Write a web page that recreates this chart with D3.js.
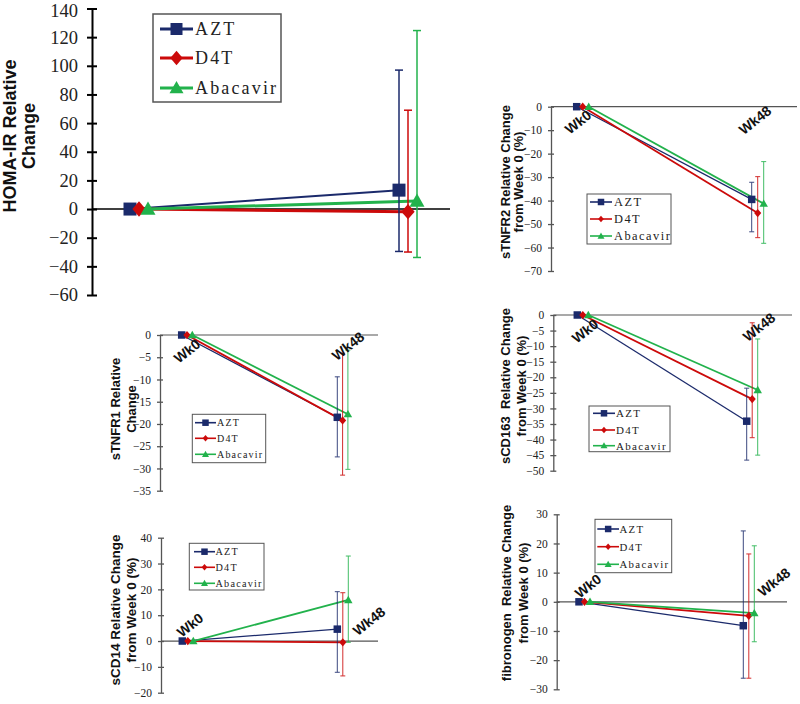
<!DOCTYPE html>
<html><head><meta charset="utf-8">
<script src="https://cdn.jsdelivr.net/npm/d3@7"></script>
<style>body{margin:0;background:#fff} svg{display:block} text{white-space:pre}</style>
</head><body><svg id="c" width="800" height="704"></svg>
<script>
const series = ["AZT", "D4T", "Abacavir"];
const timepoints = ["Wk0", "Wk48"];
const seriesColors = ["#1b2a6b", "#cc0a0a", "#22b24c"];

// Values at Wk0 are 0 (baseline); Wk48 means and error-bar limits
const homaWk48 = [13.2, -1.8, 5.6];
const homaLow = [-29.6, -30, -33.8];
const homaHigh = [97, 69, 124.6];
const homaTicks = [-60, -40, -20, 0, 20, 40, 60, 80, 100, 120, 140];

const tnfr2Wk48 = [-39.5, -45.3, -41.3];
const tnfr2Low = [-53.3, -55.8, -58.2];
const tnfr2High = [-32.2, -29.8, -23.4];
const tnfr2Ticks = [-70, -60, -50, -40, -30, -20, -10, 0];

const tnfr1Wk48 = [-18.5, -19.2, -17.8];
const tnfr1Low = [-27.4, -31.5, -30.2];
const tnfr1High = [-9.4, -4.1, -3.4];
const tnfr1Ticks = [-35, -30, -25, -20, -15, -10, -5, 0];

const cd163Wk48 = [-34.1, -27.0, -24.1];
const cd163Low = [-46.6, -39.4, -45.0];
const cd163High = [-23.5, -2.5, -7.7];
const cd163Ticks = [-50, -45, -40, -35, -30, -25, -20, -15, -10, -5, 0];

const cd14Wk48 = [4.6, -0.5, 15.9];
const cd14Low = [-12.1, -13.5, -0.5];
const cd14High = [19.1, 18.7, 32.9];
const cd14Ticks = [-20, -10, 0, 10, 20, 30, 40];

const fibWk48 = [-8.2, -4.8, -3.9];
const fibLow = [-26.2, -26.2, -13.7];
const fibHigh = [24.3, 16.4, 19.2];
const fibTicks = [-30, -20, -10, 0, 10, 20, 30];

const panels = [
  {wk48: homaWk48, low: homaLow, high: homaHigh, ticks: homaTicks, big: true,
   title: ["HOMA-IR Relative", "Change"], titleX: [10, 29], titleY: 136, titleSize: 18,
   axisX: 92, yTop: 8.5, yBot: 295, x0: 130, x1: 399, off: 9, zeroEnd: 450,
   legend: {x: 153, y: 14, w: 128, h: 88, rows: [29, 58, 88], l0: 160, l1: 193, tx: 195, fs: 18},
   wk: null},
  {wk48: tnfr2Wk48, low: tnfr2Low, high: tnfr2High, ticks: tnfr2Ticks, big: false,
   title: ["sTNFR2 Relative Change", "from Week 0 (%)"], titleX: [505, 518], titleY: 182, titleSize: 13,
   axisX: 551, yTop: 106.7, yBot: 271, x0: 576.7, x1: 751.7, off: 6, zeroEnd: 797,
   legend: {x: 587, y: 194, w: 84, h: 50, rows: [202, 219, 236], l0: 590, l1: 612, tx: 614, fs: 12.4},
   wk: [[578, 122], [755, 120]]},
  {wk48: tnfr1Wk48, low: tnfr1Low, high: tnfr1High, ticks: tnfr1Ticks, big: false,
   title: ["sTNFR1 Relative", "Change"], titleX: [115, 131], titleY: 409, titleSize: 13,
   axisX: 160, yTop: 335, yBot: 490.7, x0: 181.7, x1: 337.3, off: 5.3, zeroEnd: 378,
   legend: {x: 192.3, y: 414.3, w: 73.4, h: 48.4, rows: [422.7, 438.3, 454.3], l0: 195, l1: 216, tx: 217, fs: 10},
   wk: [[187, 351], [348, 346]]},
  {wk48: cd163Wk48, low: cd163Low, high: cd163High, ticks: cd163Ticks, big: false,
   title: ["sCD163  Relative Change", "from Week 0 (%)"], titleX: [505, 521.7], titleY: 386, titleSize: 13,
   axisX: 553.3, yTop: 315, yBot: 470.7, x0: 577.3, x1: 746.7, off: 5.5, zeroEnd: 792,
   legend: {x: 589, y: 406, w: 81, h: 45.7, rows: [413.3, 430, 445.7], l0: 593, l1: 615, tx: 616, fs: 11},
   wk: [[585, 331], [759, 327]]},
  {wk48: cd14Wk48, low: cd14Low, high: cd14High, ticks: cd14Ticks, big: false,
   title: ["sCD14 Relative Change", "from Week 0 (%)"], titleX: [115, 131.7], titleY: 610, titleSize: 13.5,
   axisX: 161, yTop: 537.7, yBot: 692.7, x0: 182.3, x1: 337.3, off: 5.5, zeroEnd: 378,
   legend: {x: 189.3, y: 543.3, w: 74.7, h: 46.7, rows: [551.7, 567.3, 583.3], l0: 194, l1: 215, tx: 215.5, fs: 10.2},
   wk: [[190, 625], [369, 621]]},
  {wk48: fibWk48, low: fibLow, high: fibHigh, ticks: fibTicks, big: false,
   title: ["fibronogen  Relative Change", "from Week 0 (%)"], titleX: [506.7, 523.3], titleY: 593, titleSize: 13,
   axisX: 556.7, yTop: 514.3, yBot: 689.3, x0: 579, x1: 743.3, off: 5.5, zeroEnd: 787,
   legend: {x: 595, y: 519.3, w: 76.7, h: 53.4, rows: [529, 546.7, 564.3], l0: 597.3, l1: 619, tx: 619.5, fs: 10.8},
   wk: [[588, 586], [774, 582]]}
];

// marker shapes
const symDiamond = {draw(ctx, size) {
  const s = Math.sqrt(size) / 2, h = s * 1.1, w = s * 0.95;
  ctx.moveTo(0, -h); ctx.lineTo(w, 0); ctx.lineTo(0, h); ctx.lineTo(-w, 0); ctx.closePath();
}};
const symTri = {draw(ctx, size) {
  const s = Math.sqrt(size) / 2;
  ctx.moveTo(0, -s * 1.0); ctx.lineTo(s, s * 0.75); ctx.lineTo(-s, s * 0.75); ctx.closePath();
}};
const symTypes = [d3.symbolSquare, symDiamond, symTri];
function marker(i, side) { return d3.symbol().type(symTypes[i]).size(side * side)(); }

const svg = d3.select("#c");
const fmt = d3.format("");

panels.forEach(p => {
  const g = svg.append("g");
  const big = p.big;
  const topTick = p.ticks[p.ticks.length - 1];
  const y = d3.scaleLinear().domain([p.ticks[0], topTick]).range([p.yBot, p.yTop]);
  const xt = d3.scalePoint().domain(timepoints).range([p.x0, p.x1]);
  const xo = d3.scalePoint().domain(series).range([0, 2 * p.off]);
  const axisColor = big ? "#000" : "#555";

  // zero line
  g.append("line").attr("x1", p.axisX).attr("x2", p.zeroEnd).attr("y1", y(0)).attr("y2", y(0))
    .attr("stroke", axisColor).attr("stroke-width", big ? 1.5 : 1.2);

  // y axis
  const tk = big ? 5 : 3;
  const ax = g.append("g").attr("transform", `translate(${p.axisX},0)`)
    .call(d3.axisLeft(y).tickValues(p.ticks).tickSizeInner(tk).tickSizeOuter(0).tickPadding(big ? 9 : 6).tickFormat(fmt));
  ax.select(".domain").attr("stroke", axisColor).attr("stroke-width", big ? 2 : 1.3);
  ax.selectAll(".tick line").attr("x1", tk).attr("stroke", axisColor).attr("stroke-width", big ? 2 : 1.3);
  ax.selectAll(".tick text").attr("font-family", "'Liberation Serif', 'DejaVu Serif', serif")
    .attr("font-size", big ? 18.5 : 11.5).attr("fill", "#222");
  if (big) {
    // keep the topmost label inside the page
    ax.selectAll(".tick text").filter(d => d === topTick).attr("dy", "0.45em");
  }

  // y title
  p.title.forEach((t, k) => {
    g.append("text").attr("transform", `translate(${p.titleX[k]},${p.titleY}) rotate(-90)`)
      .attr("text-anchor", "middle").attr("dominant-baseline", "central")
      .attr("font-family", "'Liberation Sans', Arial, sans-serif").attr("font-weight", "bold")
      .attr("font-size", p.titleSize).attr("fill", "#111").text(t);
  });

  const lw = big ? [2, 3, 3] : [1.3, 1.8, 1.8];
  const msz = big ? [13, 14, 15] : [7.5, 7.5, 8.5];
  const cap = big ? 4 : 2.5;

  // series lines
  const lineGen = d3.line().x(d => xt(d.t) + xo(d.s)).y(d => y(d.v));
  series.forEach((s, i) => {
    const pts = [{t: "Wk0", s, v: 0}, {t: "Wk48", s, v: p.wk48[i]}];
    g.append("path").attr("d", lineGen(pts)).attr("fill", "none")
      .attr("stroke", seriesColors[i]).attr("stroke-width", lw[i]);
  });
  // error bars
  series.forEach((s, i) => {
    const x = xt("Wk48") + xo(s);
    const eb = g.append("g").attr("stroke", seriesColors[i]).attr("stroke-width", big ? 1.5 : 1).attr("opacity", big ? 1 : 0.85);
    eb.append("line").attr("x1", x).attr("x2", x).attr("y1", y(p.low[i])).attr("y2", y(p.high[i]));
    [p.low[i], p.high[i]].forEach(v => {
      eb.append("line").attr("x1", x - cap).attr("x2", x + cap).attr("y1", y(v)).attr("y2", y(v));
    });
  });
  // markers
  series.forEach((s, i) => {
    [{t: "Wk0", v: 0}, {t: "Wk48", v: p.wk48[i]}].forEach(d => {
      g.append("path").attr("d", marker(i, msz[i]))
        .attr("transform", `translate(${xt(d.t) + xo(s)},${y(d.v)})`)
        .attr("fill", seriesColors[i]);
    });
  });

  // week labels
  if (p.wk) {
    timepoints.forEach((t, k) => {
      g.append("text").attr("transform", `translate(${p.wk[k][0]},${p.wk[k][1]}) rotate(-38)`)
        .attr("text-anchor", "middle").attr("dominant-baseline", "central")
        .attr("font-family", "'Liberation Sans', Arial, sans-serif").attr("font-weight", "bold")
        .attr("font-size", 14).attr("fill", "#111").text(t);
    });
  }

  // legend
  const L = p.legend;
  const lg = g.append("g");
  lg.append("rect").attr("x", L.x).attr("y", L.y).attr("width", L.w).attr("height", L.h)
    .attr("fill", "#fff").attr("stroke", "#555").attr("stroke-width", big ? 1.5 : 1);
  const lmsz = big ? [12, 13, 14] : [6.5, 6, 7];
  series.forEach((s, i) => {
    const ry = L.rows[i];
    lg.append("line").attr("x1", L.l0).attr("x2", L.l1).attr("y1", ry).attr("y2", ry)
      .attr("stroke", seriesColors[i]).attr("stroke-width", big ? 3 : 1.6);
    lg.append("path").attr("d", marker(i, lmsz[i]))
      .attr("transform", `translate(${(L.l0 + L.l1) / 2},${ry})`).attr("fill", seriesColors[i]);
    lg.append("text").attr("x", L.tx).attr("y", ry).attr("dominant-baseline", "central")
      .attr("font-family", "'Liberation Serif', 'DejaVu Serif', serif")
      .attr("font-size", L.fs).attr("letter-spacing", (L.fs * 0.12) + "px")
      .attr("fill", "#222").text(s);
  });
});
</script></body></html>
